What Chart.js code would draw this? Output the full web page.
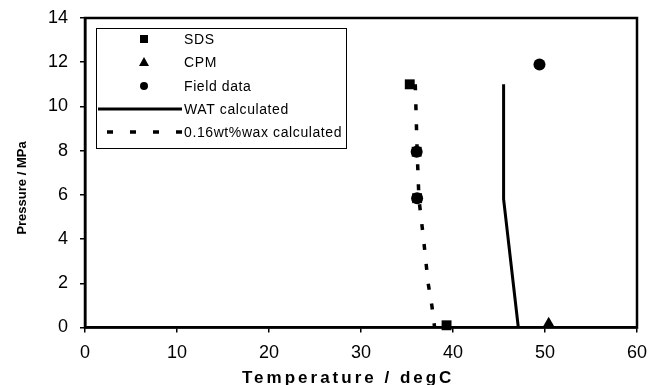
<!DOCTYPE html>
<html>
<head>
<meta charset="utf-8">
<title>Pressure vs Temperature</title>
<script src="https://cdn.jsdelivr.net/npm/chart.js@4.4.0/dist/chart.umd.min.js"></script>
<style>
  html, body { margin: 0; padding: 0; background: #fff; }
  #wrap { width: 652px; height: 385px; }
</style>
</head>
<body>
<div id="wrap"><canvas id="chart" width="652" height="385"></canvas></div>
<script>
// data
const sdsT = [35.3, 36.05, 36.1, 39.3];
const sdsP = [11.0, 7.95, 5.85, 0.1];

const cpmT = [50.4];
const cpmP = [0.15];

const fieldT = [36.05, 36.1, 49.4];
const fieldP = [7.95, 5.85, 11.9];

const watT = [45.5, 45.5, 47.1];
const watP = [11.0, 5.8, 0.0];

const waxT = [35.9, 36.1, 36.3, 36.8, 37.3, 37.7, 38.0];
const waxP = [11.0, 8.0, 5.8, 4.0, 2.0, 1.0, 0.0];

const xTicks = [0, 10, 20, 30, 40, 50, 60];
const yTicks = [0, 2, 4, 6, 8, 10, 12, 14];

const seriesNames = ["SDS", "CPM", "Field data", "WAT calculated", "0.16wt%wax calculated"];

const FONT = "'Liberation Sans', Arial, sans-serif";

function pts(xs, ys){ return xs.map((x, i) => ({ x: x, y: ys[i] })); }

// frame round the plot area, custom legend box, axis titles
const decor = {
  id: "decor",
  beforeDatasetsDraw(chart){
    const a = chart.chartArea, ctx = chart.ctx;
    ctx.save();
    ctx.strokeStyle = "#000";
    ctx.lineWidth = 2.5;
    ctx.strokeRect(a.left, a.top, a.right - a.left, a.bottom - a.top);
    ctx.restore();
  },
  afterDraw(chart){
    const ctx = chart.ctx;
    ctx.save();

    // legend frame
    ctx.strokeStyle = "#000";
    ctx.lineWidth = 1;
    ctx.strokeRect(96.5, 28.5, 250, 120);

    const rows = [39, 62, 86, 109, 132];
    const mx = 144, tx = 184;
    ctx.fillStyle = "#000";

    // square
    ctx.fillRect(mx - 4, rows[0] - 4, 8, 8);
    // triangle
    ctx.beginPath();
    ctx.moveTo(mx, rows[1] - 5);
    ctx.lineTo(mx + 5, rows[1] + 4);
    ctx.lineTo(mx - 5, rows[1] + 4);
    ctx.closePath();
    ctx.fill();
    // circle
    ctx.beginPath();
    ctx.arc(mx, rows[2], 4, 0, Math.PI * 2);
    ctx.fill();
    // solid line
    ctx.lineWidth = 3;
    ctx.beginPath();
    ctx.moveTo(98, rows[3]);
    ctx.lineTo(182, rows[3]);
    ctx.stroke();
    // dashed line
    ctx.lineWidth = 3.5;
    ctx.setLineDash([6, 17]);
    ctx.beginPath();
    ctx.moveTo(107, rows[4]);
    ctx.lineTo(184, rows[4]);
    ctx.stroke();
    ctx.setLineDash([]);

    ctx.font = "14px " + FONT;
    ctx.letterSpacing = "0.6px";
    ctx.textAlign = "left";
    ctx.textBaseline = "middle";
    seriesNames.forEach((n, i) => ctx.fillText(n, tx, rows[i] + 1));

    // x title
    ctx.font = "bold 17px " + FONT;
    ctx.letterSpacing = "3px";
    ctx.fillText("Temperature / degC", 242, 378);

    // y title
    ctx.letterSpacing = "0px";
    ctx.font = "bold 13px " + FONT;
    ctx.translate(22, 188);
    ctx.rotate(-Math.PI / 2);
    ctx.textAlign = "center";
    ctx.fillText("Pressure / MPa", 0, 0);

    ctx.restore();
  }
};

const axisCommon = {
  grid: { display: true, drawOnChartArea: false, drawTicks: true, tickLength: 5, color: "#000", lineWidth: 1.5 },
  border: { display: true, color: "#000", width: 2.5 },
};

new Chart(document.getElementById("chart"), {
  type: "scatter",
  data: {
    datasets: [
      { label: seriesNames[0], data: pts(sdsT, sdsP), pointStyle: "rect", pointRadius: 7,
        backgroundColor: "#000", borderColor: "#000", borderWidth: 0, showLine: false, clip: false },
      { label: seriesNames[1], data: pts(cpmT, cpmP), pointStyle: "triangle", pointRadius: 7.5,
        backgroundColor: "#000", borderColor: "#000", borderWidth: 0, showLine: false, clip: false },
      { label: seriesNames[2], data: pts(fieldT, fieldP), pointStyle: "circle", pointRadius: 6,
        backgroundColor: "#000", borderColor: "#000", borderWidth: 0, showLine: false, clip: false },
      { label: seriesNames[3], data: pts(watT, watP), showLine: true, pointRadius: 0,
        borderColor: "#000", borderWidth: 3, tension: 0, clip: false },
      { label: seriesNames[4], data: pts(waxT, waxP), showLine: true, pointRadius: 0,
        borderColor: "#000", borderWidth: 3.5, borderDash: [6, 14], tension: 0, clip: false },
    ]
  },
  options: {
    responsive: false,
    animation: false,
    layout: { padding: { top: 18, right: 15, left: 0, bottom: 0 } },
    plugins: { legend: { display: false }, tooltip: { enabled: false } },
    scales: {
      x: {
        ...axisCommon,
        type: "linear", min: 0, max: 60,
        afterBuildTicks: s => { s.ticks = xTicks.map(v => ({ value: v })); },
        afterFit: s => { s.height = 57.5; s.paddingLeft = 0; s.paddingRight = 0; },
        ticks: { color: "#000", font: { family: FONT, size: 18 }, padding: 10, maxRotation: 0 },
      },
      y: {
        ...axisCommon,
        type: "linear", min: 0, max: 14,
        afterBuildTicks: s => { s.ticks = yTicks.map(v => ({ value: v })); },
        afterFit: s => { s.width = 85; s.paddingTop = 0; s.paddingBottom = 0; },
        ticks: { color: "#000", font: { family: FONT, size: 18 }, padding: 12 },
      }
    }
  },
  plugins: [decor]
});
</script>
</body>
</html>
